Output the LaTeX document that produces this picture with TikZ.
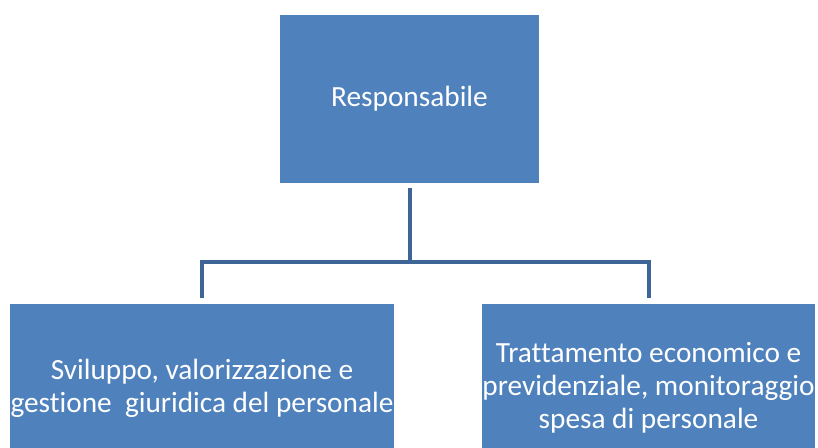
\documentclass[tikz,border=0pt]{standalone}
\usepackage{fontspec}
\setmainfont{Carlito}[Ligatures=NoCommon]
\definecolor{boxblue}{HTML}{4F81BD}
\definecolor{connblue}{HTML}{3D6596}
\begin{document}
\begin{tikzpicture}[x=1pt,y=1pt,
  orgbox/.style={fill=boxblue, draw=none, text=white, align=center, inner sep=0pt,
    font=\fontsize{29.3}{32.8}\selectfont},
  conn/.style={draw=connblue, line width=4pt, line join=miter}]
\clip (0,0) rectangle (818,-447);
\useasboundingbox (0,0) rectangle (818,-447);
\node[orgbox, minimum width=259pt, minimum height=168pt] (top) at (409.5,-99) {Responsabile};
\node[orgbox, minimum width=384pt, minimum height=168pt] (left) at (202,-388)
  {Sviluppo, valorizzazione e\\gestione\ \ giuridica del personale};
\node[orgbox, minimum width=331pt, minimum height=168pt] (right) at (648.5,-388)
  {Trattamento economico e\\previdenziale, monitoraggio\\spesa di personale};
\coordinate (c0) at ([yshift=-5pt]top.south);
\coordinate (hub) at (top.south |- 0,-262);
\coordinate (lt) at ([yshift=6pt]left.north);
\coordinate (rt) at ([yshift=6pt]right.north);
\draw[conn] (c0) -- (hub);
\draw[conn] (lt) |- (hub) -| (rt);
\end{tikzpicture}
\end{document}
